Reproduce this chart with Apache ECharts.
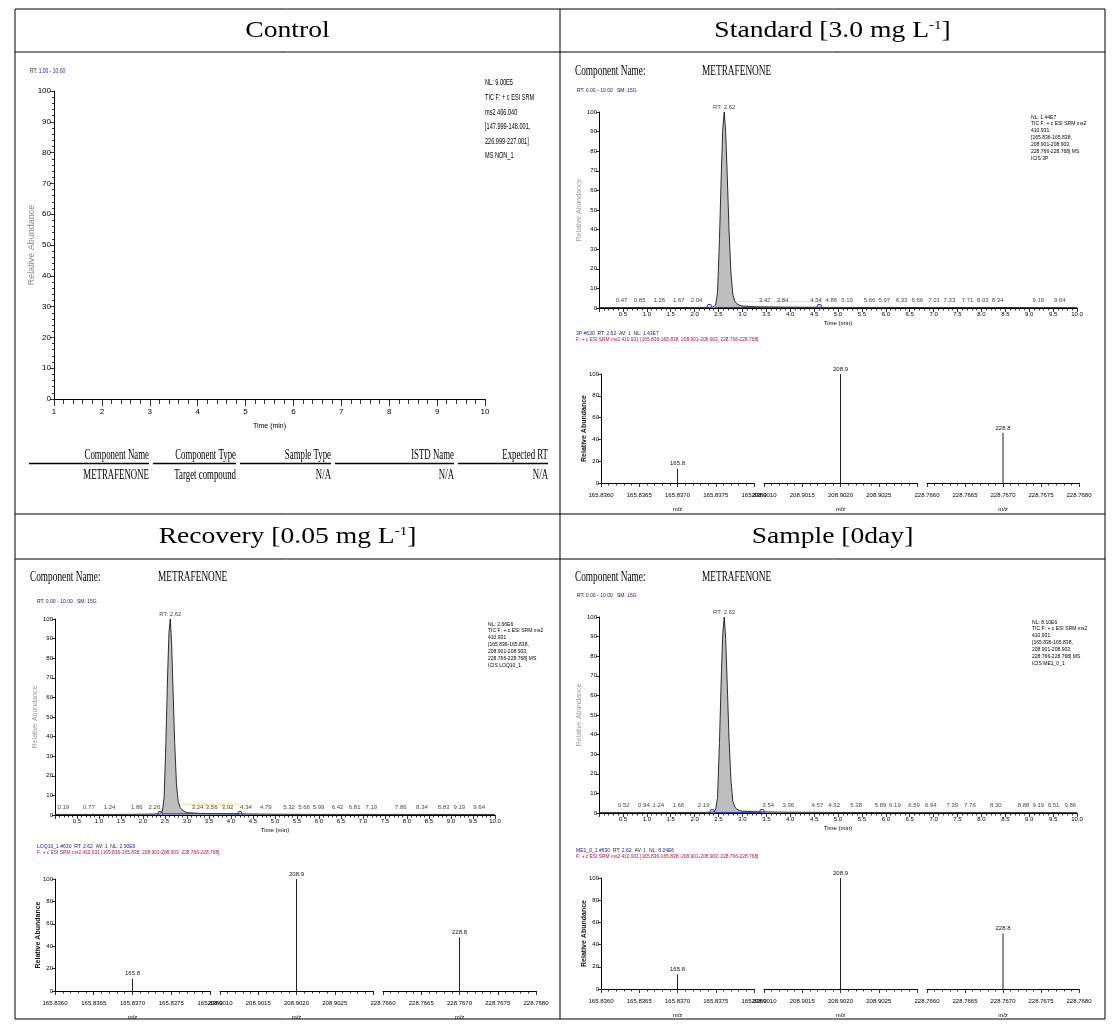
<!DOCTYPE html>
<html><head><meta charset="utf-8">
<script src="https://cdn.jsdelivr.net/npm/echarts@6/dist/echarts.min.js"></script>
<style>html,body{margin:0;padding:0;background:#fff}#c{width:1115px;height:1033px}</style>
</head><body><div id="c"></div>
<script>
// ================= DATA =================
const panelTitles = ['Control', 'Standard [3.0 mg L', 'Recovery [0.05 mg L', 'Sample [0day]'];
const panelTitleSup = ['', '-1', '-1', ''];
const panelTitleTail = ['', ']', ']', ''];

const compName = 'METRAFENONE';
const tableHeaders = ['Component Name', 'Component Type', 'Sample Type', 'ISTD Name', 'Expected RT'];
const tableRow = ['METRAFENONE', 'Target compound', 'N/A', 'N/A', 'N/A'];

const ctrlInfo = ['NL: 9.00E5', 'TIC F: + c ESI SRM', 'ms2 466.040', '[147.999-148.001,', '226.999-227.001]', 'MS NON_1'];
const stdInfo = ['NL: 1.44E7', 'TIC F: + c ESI SRM ms2', '410.931', '[165.836-165.838,', '208.901-208.903,', '228.766-228.768] MS', 'ICIS 3P'];
const recInfo = ['NL: 2.66E6', 'TIC F: + c ESI SRM ms2', '410.931', '[165.836-165.838,', '208.901-208.903,', '228.766-228.768] MS', 'ICIS LOQ10_1'];
const smpInfo = ['NL: 8.10E6', 'TIC F: + c ESI SRM ms2', '410.931', '[165.836-165.838,', '208.901-208.903,', '228.766-228.768] MS', 'ICIS ME1_0_1'];

// chromatogram traces (time in min, relative abundance %)
const chromTime = [0.00, 0.50, 1.00, 1.50, 2.00, 2.20, 2.38, 2.44, 2.48, 2.52, 2.56, 2.59, 2.62, 2.65, 2.68, 2.72, 2.76, 2.80, 2.84, 2.88, 2.94, 3.00, 3.30, 4.00, 5.00, 6.00, 7.00, 8.00, 9.00, 10.00];
const stdAbund = [0.2, 0.2, 0.3, 0.2, 0.3, 0.3, 0.4, 1.5, 8, 35, 70, 92, 100, 90, 70, 40, 18, 7, 3.5, 2.2, 1.4, 1.0, 0.6, 0.4, 0.3, 0.3, 0.2, 0.3, 0.2, 0.2];
const recAbund = [0.3, 0.3, 0.3, 0.3, 0.4, 0.5, 0.6, 1.8, 9, 37, 72, 93, 100, 88, 66, 37, 16, 7, 4, 2.8, 1.8, 1.2, 0.8, 0.6, 0.4, 0.3, 0.3, 0.3, 0.3, 0.3];
const smpAbund = [0.2, 0.2, 0.2, 0.2, 0.3, 0.3, 0.5, 1.6, 8, 36, 71, 92, 100, 89, 68, 38, 17, 6, 3.2, 2.0, 1.3, 0.9, 0.6, 0.4, 0.3, 0.2, 0.2, 0.2, 0.2, 0.2];

// labelled noise peaks (RT)
const stdNoiseRT = [0.47, 0.85, 1.26, 1.67, 2.04, 3.47, 3.84, 4.54, 4.86, 5.19, 5.66, 5.97, 6.33, 6.66, 7.01, 7.33, 7.71, 8.03, 8.34, 9.19, 9.64];
const recNoiseRT = [0.19, 0.77, 1.24, 1.86, 2.26, 3.24, 3.56, 3.92, 4.34, 4.79, 5.32, 5.66, 5.99, 6.42, 6.81, 7.19, 7.86, 8.34, 8.83, 9.19, 9.64];
const smpNoiseRT = [0.52, 0.94, 1.24, 1.66, 2.19, 3.54, 3.96, 4.57, 4.92, 5.38, 5.89, 6.19, 6.59, 6.94, 7.39, 7.76, 8.30, 8.88, 9.19, 9.51, 9.86];

// integration marks (blue baseline + start/end arcs, yellow level)
const stdBlue = [[[2.25, 0], [2.28, 1.8], [2.31, 2.6], [2.34, 1.8], [2.37, 0]], [[2.42, 0.3], [4.62, 0.3]], [[4.55, 0], [4.58, 1.8], [4.61, 2.4], [4.64, 1.8], [4.66, 0]]];
const stdYellow = [[2.60, 3.2], [4.66, 3.2]];
const recBlue = [[[2.33, 0], [2.36, 1.8], [2.39, 2.5], [2.42, 1.8], [2.45, 0]], [[2.45, 0.6], [4.20, 0.6]], [[4.14, 0], [4.17, 1.8], [4.20, 2.5], [4.23, 1.8], [4.26, 0]]];
const recYellow = [[2.50, 5.5], [4.22, 5.5]];
const smpBlue = [[[2.31, 0], [2.34, 1.8], [2.37, 2.5], [2.40, 1.8], [2.43, 0]], [[2.43, 0.3], [3.40, 0.3]], [[3.35, 0], [3.38, 1.8], [3.41, 2.5], [3.44, 1.8], [3.47, 0]]];
const smpYellow = [[2.70, 1.5], [3.40, 1.5]];

// product ion spectra
const specRanges = [[165.836, 165.838], [208.901, 208.903], [228.766, 228.768]];
const specMz = [165.837, 208.902, 228.767];
const specPeakLabels = ['165.8', '208.9', '228.8'];
const stdSpecInt = [13, 100, 46];
const recSpecInt = [11, 100, 48];
const smpSpecInt = [13, 100, 50];

const stdScan = ['3P', '#630', '2.62', '1', '1.43E7'];
const recScan = ['LOQ10_1', '#630', '2.62', '1', '2.90E6'];
const smpScan = ['ME1_0_1', '#630', '2.62', '1', '8.24E6'];
const filterLine = 'F: + c ESI SRM ms2 410.931 [165.836-165.838, 208.901-208.903, 228.766-228.768]';

// ================= BUILD =================
const grids = [], xAxes = [], yAxes = [], series = [], graphics = [];
const BLACK = '#000';
const SANS = 'Liberation Sans';
const SERIF = 'Liberation Serif';

function T(x, y, text, o) {
  o = o || {};
  const st = {
    text: text, fontSize: o.size || 6, fontFamily: o.font || SANS, fill: o.color || BLACK,
    textAlign: o.align || 'left', align: o.align || 'left',
    textVerticalAlign: o.va || 'middle', verticalAlign: o.va || 'middle',
    fontWeight: o.weight || 'normal'
  };
  if (o.rich) st.rich = o.rich;
  graphics.push({ type: 'text', x: x, y: y, scaleX: o.sx || 1, scaleY: o.sy || 1, z: 100, silent: true, style: st });
}
function L(x1, y1, x2, y2, w, color) {
  graphics.push({ type: 'line', z: 100, silent: true, shape: { x1: x1, y1: y1, x2: x2, y2: y2 }, style: { stroke: color || BLACK, lineWidth: w || 1 } });
}

function axisBase() {
  return {
    axisLine: { show: true, onZero: false, lineStyle: { color: BLACK, width: 1 } },
    splitLine: { show: false }, minorSplitLine: { show: false },
    nameMoveOverlap: false
  };
}

function addGrid(l, t, w, h) {
  grids.push({ left: l, top: t, width: w, height: h, containLabel: false, outerBoundsMode: 'none', show: false });
  return grids.length - 1;
}

// ---- Chromatogram ----
function addChrom(rect, abund, noise, blue, yellow) {
  const gi = addGrid(rect[0], rect[1], rect[2], rect[3]);
  xAxes.push(Object.assign(axisBase(), {
    type: 'value', gridIndex: gi, min: 0, max: 10, interval: 0.5,
    axisTick: { show: true, length: 4, lineStyle: { color: BLACK, width: 0.8 } },
    minorTick: { show: true, splitNumber: 5, length: 2.5, lineStyle: { color: BLACK, width: 0.8 } },
    axisLabel: { fontSize: 6, color: BLACK, margin: 3, showMinLabel: false, fontFamily: SANS, formatter: v => v.toFixed(1) },
    name: 'Time (min)', nameLocation: 'middle', nameGap: 12, nameTextStyle: { fontSize: 6, color: BLACK, fontFamily: SANS }
  }));
  yAxes.push(Object.assign(axisBase(), {
    type: 'value', gridIndex: gi, min: 0, max: 100, interval: 10,
    axisTick: { show: true, length: 3, lineStyle: { color: BLACK, width: 0.8 } },
    axisLabel: { fontSize: 6, color: BLACK, margin: 2, fontFamily: SANS },
    name: 'Relative Abundance', nameLocation: 'middle', nameGap: 16, nameTextStyle: { fontSize: 7, color: '#9a9a9a', fontFamily: SANS }
  }));
  const xi = xAxes.length - 1, yi = yAxes.length - 1;
  const trace = chromTime.map((t, i) => [t, abund[i]]);
  series.push({ type: 'line', xAxisIndex: xi, yAxisIndex: yi, data: trace, symbol: 'none', silent: true,
    lineStyle: { color: BLACK, width: 0.8 }, areaStyle: { color: '#bebebe', opacity: 1 }, z: 3 });
  blue.forEach(seg => series.push({ type: 'line', xAxisIndex: xi, yAxisIndex: yi, data: seg, symbol: 'none', silent: true,
    lineStyle: { color: '#2a2ae0', width: 1 }, z: 4 }));
  series.push({ type: 'line', xAxisIndex: xi, yAxisIndex: yi, data: yellow, symbol: 'none', silent: true,
    lineStyle: { color: '#eee48a', width: 1 }, z: 2 });
  series.push({ type: 'scatter', xAxisIndex: xi, yAxisIndex: yi, data: noise.map(t => [t, 0]), symbolSize: 1, silent: true,
    itemStyle: { color: 'rgba(0,0,0,0)' }, z: 5,
    label: { show: true, position: 'top', distance: 4, fontSize: 6, color: '#111', fontFamily: SANS, formatter: p => p.value[0].toFixed(2) } });
  let im = 0; abund.forEach((v, i) => { if (v > abund[im]) im = i; });
  series.push({ type: 'scatter', xAxisIndex: xi, yAxisIndex: yi, data: [[chromTime[im], abund[im]]], symbolSize: 1, silent: true,
    itemStyle: { color: 'rgba(0,0,0,0)' }, z: 5,
    label: { show: true, position: 'top', distance: 1, fontSize: 6, color: '#111', fontFamily: SANS, formatter: p => 'RT: ' + p.value[0].toFixed(2) } });
}

// ---- Spectrum ----
function addSpectrum(top, height, segs, ints) {
  segs.forEach((s, k) => {
    const gi = addGrid(s[0], top, s[1] - s[0], height);
    xAxes.push(Object.assign(axisBase(), {
      type: 'value', gridIndex: gi, min: specRanges[k][0], max: specRanges[k][1], interval: 0.0005,
      axisTick: { show: true, length: 4, lineStyle: { color: BLACK, width: 0.8 } },
      minorTick: { show: true, splitNumber: 5, length: 2.5, lineStyle: { color: BLACK, width: 0.8 } },
      axisLabel: { fontSize: 6, color: BLACK, margin: 9, fontFamily: SANS, showMaxLabel: k !== 1, formatter: v => v.toFixed(4) },
      name: 'm/z', nameLocation: 'middle', nameGap: 23, nameTextStyle: { fontSize: 6, color: BLACK, fontFamily: SANS }
    }));
    yAxes.push(Object.assign(axisBase(), {
      type: 'value', gridIndex: gi, min: 0, max: 100, interval: 20, show: k === 0,
      axisTick: { show: true, length: 3, lineStyle: { color: BLACK, width: 0.8 } },
      axisLabel: { fontSize: 6, color: BLACK, margin: 2, fontFamily: SANS },
      name: k === 0 ? 'Relative Abundance' : '', nameLocation: 'middle', nameGap: 13,
      nameTextStyle: { fontSize: 7, color: '#111', fontWeight: 'bold', fontFamily: SANS }
    }));
    const xi = xAxes.length - 1, yi = yAxes.length - 1;
    series.push({ type: 'bar', xAxisIndex: xi, yAxisIndex: yi, data: [[specMz[k], ints[k]]], barWidth: 1, silent: true,
      itemStyle: { color: '#222' },
      label: { show: true, position: 'top', distance: 2, fontSize: 6, color: '#111', fontFamily: SANS, formatter: () => specPeakLabels[k] } });
  });
}

// ---- Control chart ----
(function () {
  const gi = addGrid(54, 91, 431, 308);
  xAxes.push(Object.assign(axisBase(), {
    type: 'value', gridIndex: gi, min: 1, max: 10, interval: 1,
    axisTick: { show: true, length: 7, lineStyle: { color: BLACK, width: 0.8 } },
    minorTick: { show: true, splitNumber: 5, length: 5, lineStyle: { color: BLACK, width: 0.8 } },
    axisLabel: { fontSize: 8, color: BLACK, margin: 9, fontFamily: SANS },
    name: 'Time (min)', nameLocation: 'middle', nameGap: 24, nameTextStyle: { fontSize: 7, color: BLACK, fontFamily: SANS }
  }));
  yAxes.push(Object.assign(axisBase(), {
    type: 'value', gridIndex: gi, min: 0, max: 100, interval: 10,
    axisTick: { show: true, length: 4, lineStyle: { color: BLACK, width: 0.8 } },
    minorTick: { show: true, splitNumber: 5, length: 2, lineStyle: { color: BLACK, width: 0.8 } },
    axisLabel: { fontSize: 8, color: BLACK, margin: 3, fontFamily: SANS },
    name: 'Relative Abundance', nameLocation: 'middle', nameGap: 18, nameTextStyle: { fontSize: 9, color: '#8a8a8a', fontFamily: SANS }
  }));
  series.push({ type: 'line', xAxisIndex: xAxes.length - 1, yAxisIndex: yAxes.length - 1, data: [], symbol: 'none' });
})();

addChrom([599, 112, 478, 196], stdAbund, stdNoiseRT, stdBlue, stdYellow);
addChrom([55, 619, 440, 196], recAbund, recNoiseRT, recBlue, recYellow);
addChrom([599, 617, 478, 196], smpAbund, smpNoiseRT, smpBlue, smpYellow);

const rightSegs = [[601, 754], [764, 917], [927, 1079]];
const leftSegs = [[55, 210], [220, 373], [383, 536]];
addSpectrum(374, 109, rightSegs, stdSpecInt);
addSpectrum(879, 112, leftSegs, recSpecInt);
addSpectrum(878, 111, rightSegs, smpSpecInt);

// ---- Table frame ----
const TL = 15, TR = 1105, TT = 9, TB = 1019, TM = 560;
L(TL, TT, TR, TT); L(TL, TB, TR, TB); L(TL, TT, TL, TB); L(TR, TT, TR, TB); L(TM, TT, TM, TB);
L(TL, 52, TR, 52); L(TL, 514, TR, 514); L(TL, 559, TR, 559);

// ---- Panel titles ----
const titlePos = [[287.5, 31], [832.5, 31], [287.5, 537], [832.5, 537]];
panelTitles.forEach((t, i) => {
  const txt = '{m|' + t + '}' + (panelTitleSup[i] ? '{s|' + panelTitleSup[i] + '}' : '') + (panelTitleTail[i] ? '{m|' + panelTitleTail[i] + '}' : '');
  T(titlePos[i][0], titlePos[i][1], txt, { align: 'center', size: 24, font: SERIF, sx: 1.15,
    rich: { m: { fontSize: 24, fontFamily: SERIF, fill: BLACK, color: BLACK }, s: { fontSize: 13, fontFamily: SERIF, fill: BLACK, color: BLACK, verticalAlign: 'top', lineHeight: 24 } } });
});

// ---- Info blocks ----
function infoBlock(x, y, lines, dy, size, sx) {
  lines.forEach((s, i) => T(x, y + i * dy, s, { size: size, sx: sx }));
}
infoBlock(485, 83, ctrlInfo, 14.6, 9, 0.62);
infoBlock(1031, 117, stdInfo, 6.9, 5.6, 0.9);
infoBlock(488, 624, recInfo, 6.9, 5.6, 0.9);
infoBlock(1032, 622, smpInfo, 6.9, 5.6, 0.9);

T(30, 71, '{k|RT:} {b|1.00 - 10.00}', { size: 8, sx: 0.62, rich: { k: { fill: '#222', color: '#222', fontSize: 8 }, b: { fill: '#1a1aa0', color: '#1a1aa0', fontSize: 8 } } });

function compHeader(x1, x2, y) {
  T(x1, y, 'Component Name:', { size: 15, font: SERIF, sx: 0.62 });
  T(x2, y, compName, { size: 15, font: SERIF, sx: 0.62 });
}
compHeader(575, 702, 71);
compHeader(30, 158, 577);
compHeader(575, 702, 577);

function rtLine(x, y) {
  T(x, y, '{k|RT:} {b|0.00 - 10.00}   {k|SM:} {b|15G}', { size: 5.6, sx: 0.9, rich: { k: { fill: '#222', color: '#222', fontSize: 5.6 }, b: { fill: '#1a1aa0', color: '#1a1aa0', fontSize: 5.6 } } });
}
rtLine(577, 90); rtLine(37, 601); rtLine(577, 595);

function scanHead(x, y, sc) {
  T(x, y, '{b|' + sc[0] + ' ' + sc[1] + '}  {k|RT:} {b|' + sc[2] + '}  {k|AV:} {b|' + sc[3] + '}  {k|NL:} {b|' + sc[4] + '}',
    { size: 5.6, sx: 0.9, rich: { k: { fill: '#222', color: '#222', fontSize: 5.6 }, b: { fill: '#1a1aa0', color: '#1a1aa0', fontSize: 5.6 } } });
  T(x, y + 6.5, filterLine, { size: 5.4, sx: 0.9, color: '#c0103a' });
}
scanHead(576, 333, stdScan);
scanHead(37, 846, recScan);
scanHead(576, 850, smpScan);

// ---- Control component table ----
const colRight = [149, 236, 331, 454, 548];
const colLeft = [29, 153, 240, 335, 458];
tableHeaders.forEach((h, i) => {
  T(colRight[i], 455, h, { size: 14, font: SERIF, sx: 0.63, align: 'right' });
  L(colLeft[i], 463.5, colRight[i], 463.5, 1.6);
  T(colRight[i], 475, tableRow[i], { size: 14, font: SERIF, sx: 0.63, align: 'right' });
});

// ================= RENDER =================
const chart = echarts.init(document.getElementById('c'), null, { renderer: 'canvas' });
chart.setOption({
  animation: false,
  backgroundColor: '#fff',
  grid: grids, xAxis: xAxes, yAxis: yAxes, series: series,
  graphic: { elements: graphics }
});
</script>
</body></html>
